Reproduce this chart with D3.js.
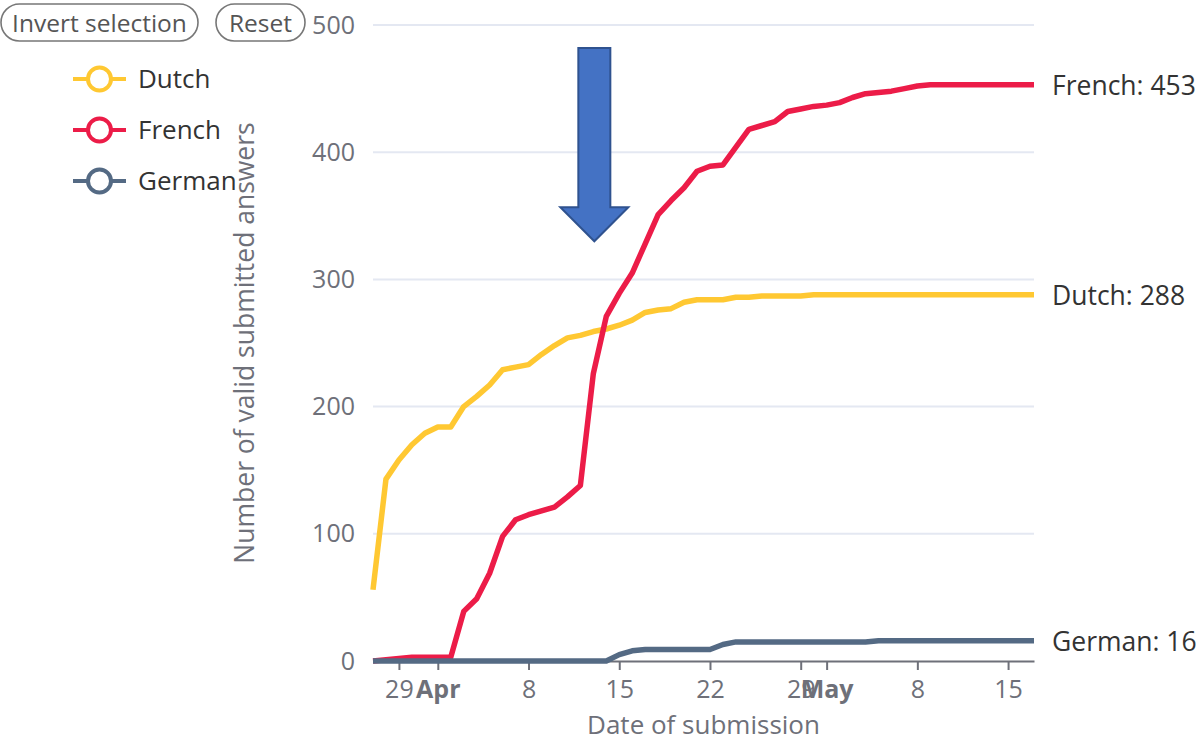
<!DOCTYPE html>
<html><head><meta charset="utf-8">
<script src="https://cdn.jsdelivr.net/npm/d3@7"></script>
<style>body{margin:0;background:#fff;} svg{display:block;font-family:"Open Sans",sans-serif;}</style>
</head><body><svg id="chart" width="1199" height="742"></svg>
<script>
// ---- data ----
const dates = ["2020-03-27","2020-03-28","2020-03-29","2020-03-30","2020-03-31","2020-04-01","2020-04-02","2020-04-03","2020-04-04","2020-04-05",
"2020-04-06","2020-04-07","2020-04-08","2020-04-09","2020-04-10","2020-04-11","2020-04-12","2020-04-13","2020-04-14","2020-04-15",
"2020-04-16","2020-04-17","2020-04-18","2020-04-19","2020-04-20","2020-04-21","2020-04-22","2020-04-23","2020-04-24","2020-04-25",
"2020-04-26","2020-04-27","2020-04-28","2020-04-29","2020-04-30","2020-05-01","2020-05-02","2020-05-03","2020-05-04","2020-05-05",
"2020-05-06","2020-05-07","2020-05-08","2020-05-09","2020-05-10","2020-05-11","2020-05-12","2020-05-13","2020-05-14","2020-05-15",
"2020-05-16","2020-05-17"];
const dutch = [56,143,158,170,179,184,184,200,208,217,229,231,233,241,248,254,256,259,261,264,268,274,276,277,282,284,284,284,286,286,
287,287,287,287,288,288,288,288,288,288,288,288,288,288,288,288,288,288,288,288,288,288];
const french = [0,1,2,3,3,3,3,39,49,69,98,111,115,118,121,129,138,226,271,289,305,328,351,362,372,385,389,390,404,418,
421,424,432,434,436,437,439,443,446,447,448,450,452,453,453,453,453,453,453,453,453,453];
const german = [0,0,0,0,0,0,0,0,0,0,0,0,0,0,0,0,0,0,0,5,8,9,9,9,9,9,9,13,15,15,
15,15,15,15,15,15,15,15,15,16,16,16,16,16,16,16,16,16,16,16,16,16];
const seriesNames = ["Dutch","French","German"];
const seriesValues = [dutch, french, german];
const seriesColors = ["#ffc832","#ec1c48","#546a84"];
const yTicks = [0,100,200,300,400,500];
const xTickDates = ["2020-03-29","2020-04-01","2020-04-08","2020-04-15","2020-04-22","2020-04-29","2020-05-01","2020-05-08","2020-05-15"];
const xTickLabels = ["29","Apr","8","15","22","29","May","8","15"];
const xTickBold = [false,true,false,false,false,false,true,false,false];
const buttonLabels = ["Invert selection","Reset"];
const arrowDate = "2020-04-13";
const arrowFrom = 482, arrowTo = 330;

// ---- layout ----
const parse = d3.utcParse("%Y-%m-%d");
const svg = d3.select("#chart");
const x = d3.scaleUtc().domain([parse(dates[0]), parse(dates[dates.length-1])]).range([373,1034]);
const y = d3.scaleLinear().domain([0,500]).range([661,25]);
const grey = "#6e7079";

// gridlines
svg.append("g").selectAll("line").data(yTicks.filter(d=>d>0)).join("line")
  .attr("x1",373).attr("x2",1034).attr("y1",d=>y(d)).attr("y2",d=>y(d))
  .attr("stroke","#e4e8f2").attr("stroke-width",2);

// y axis labels
const ya = svg.append("g").attr("transform","translate(373,0)")
  .call(d3.axisLeft(y).tickValues(yTicks).tickSize(0).tickPadding(18));
ya.select(".domain").remove();
ya.selectAll("text").attr("fill",grey).attr("font-size",25).attr("font-family","Open Sans");

// x axis
const xa = svg.append("g").attr("transform",`translate(0,${y(0)})`)
  .call(d3.axisBottom(x).tickValues(xTickDates.map(parse)).tickSize(9).tickSizeOuter(0).tickPadding(10)
    .tickFormat((d,i)=>xTickLabels[i]));
xa.select(".domain").attr("stroke",grey).attr("stroke-width",2);
xa.selectAll(".tick line").attr("stroke",grey).attr("stroke-width",2);
xa.selectAll("text").attr("fill",grey).attr("font-size",25).attr("font-family","Open Sans")
  .attr("font-weight",(d,i)=>xTickBold[i]?"bold":"normal");

// lines
const line = d3.line().x((d,i)=>x(parse(dates[i]))).y(d=>y(d));
seriesValues.forEach((vals,k)=>{
  svg.append("path").datum(vals).attr("d",line).attr("fill","none")
    .attr("stroke",seriesColors[k]).attr("stroke-width",5.5)
    .attr("stroke-linejoin","round").attr("stroke-linecap","butt");
});

// end labels
svg.append("g").selectAll("text").data(seriesValues).join("text")
  .attr("x",x(parse(dates[dates.length-1]))+18)
  .attr("y",d=>y(d[d.length-1]))
  .attr("dominant-baseline","central")
  .attr("font-size",26.5).attr("fill","#333")
  .text((d,k)=>`${seriesNames[k]}: ${d[d.length-1]}`);

// axis titles
svg.append("text").attr("transform","translate(244,343) rotate(-90)")
  .attr("text-anchor","middle").attr("dominant-baseline","central")
  .attr("font-size",26.5).attr("fill",grey).text("Number of valid submitted answers");
svg.append("text").attr("x",703.5).attr("y",724)
  .attr("text-anchor","middle").attr("dominant-baseline","central")
  .attr("font-size",26).attr("fill",grey).text("Date of submission");

// legend
const lg = svg.append("g").selectAll("g").data(seriesNames).join("g")
  .attr("transform",(d,i)=>`translate(0,${79+i*51})`);
lg.append("line").attr("x1",73).attr("x2",126).attr("stroke",(d,i)=>seriesColors[i]).attr("stroke-width",4);
lg.append("circle").attr("cx",99.5).attr("r",11.5).attr("fill","#fff")
  .attr("stroke",(d,i)=>seriesColors[i]).attr("stroke-width",4);
lg.append("text").attr("x",138).attr("y",-1).attr("dominant-baseline","central")
  .attr("font-size",26).attr("fill","#333").text(d=>d);

// buttons
const btnBoxes = [[1,197],[216,89]];
const bg = svg.append("g").selectAll("g").data(buttonLabels).join("g");
bg.append("rect").attr("x",(d,i)=>btnBoxes[i][0]).attr("y",4).attr("width",(d,i)=>btnBoxes[i][1]).attr("height",37)
  .attr("rx",18.5).attr("fill","#fff").attr("stroke","#777").attr("stroke-width",1.6);
bg.append("text").attr("x",(d,i)=>btnBoxes[i][0]+btnBoxes[i][1]/2).attr("y",22.5)
  .attr("text-anchor","middle").attr("dominant-baseline","central")
  .attr("font-size",24.5).attr("fill","#555").text(d=>d);

// arrow annotation
const ax = x(parse(arrowDate))+1, yTop = y(arrowFrom), yTip = y(arrowTo);
const sw = 16, hw = 34, hh = 34;
svg.append("path")
  .attr("d",`M${ax-sw},${yTop}L${ax+sw},${yTop}L${ax+sw},${yTip-hh}L${ax+hw},${yTip-hh}L${ax},${yTip}L${ax-hw},${yTip-hh}L${ax-sw},${yTip-hh}Z`)
  .attr("fill","#4472c4").attr("stroke","#2f528f").attr("stroke-width",2);
</script></body></html>
